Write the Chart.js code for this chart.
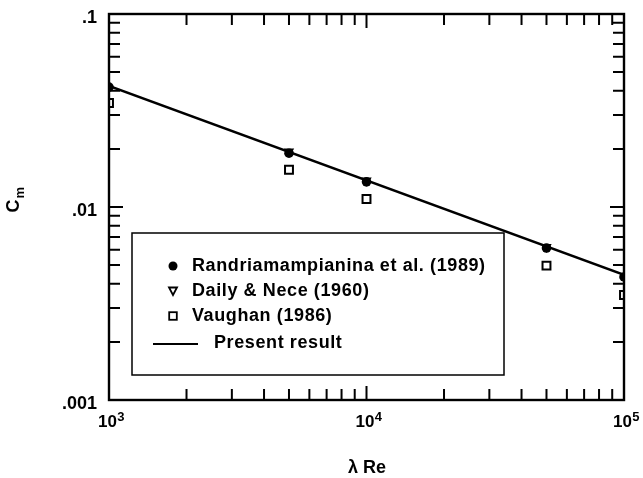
<!DOCTYPE html>
<html>
<head>
<meta charset="utf-8">
<script src="https://cdn.jsdelivr.net/npm/chart.js@4.4.1/dist/chart.umd.min.js"></script>
<style>
  html, body { margin: 0; padding: 0; background: #fff; }
  #wrap { width: 643px; height: 478px; }
</style>
</head>
<body>
<div id="wrap"><canvas id="cm"></canvas></div>
<script>
// values (log-log)
const randX = [1000, 5000, 10000, 50000, 100000];
const randY = [0.0418, 0.0190, 0.0135, 0.00613, 0.00434];

const dailyX = [5000, 10000, 50000];
const dailyY = [0.0194, 0.0137, 0.0062];

const vaughanX = [1000, 5000, 10000, 50000, 100000];
const vaughanY = [0.0346, 0.0156, 0.0110, 0.00497, 0.0035];

const presentX = [1000, 100000];
const presentY = [0.0424, 0.00445];

const xTicks = [1000, 10000, 100000];
const xTickExp = ["3", "4", "5"];
const yTicks = [0.1, 0.01, 0.001];
const yTickLabels = [".1", ".01", ".001"];

const legendLabels = [
  "Randriamampianina et al. (1989)",
  "Daily & Nece (1960)",
  "Vaughan (1986)",
  "Present result",
];

const FONT = "'Liberation Sans', Arial, Helvetica, sans-serif";

const pts = (xs, ys) => xs.map((x, i) => ({ x: x, y: ys[i] }));

// frame, inward ticks, labels and the boxed legend
const decorPlugin = {
  id: "decor",
  afterDraw(chart) {
    const ctx = chart.ctx;
    const a = chart.chartArea;
    const xs = chart.scales.x;
    const ys = chart.scales.y;
    ctx.save();
    ctx.strokeStyle = "#000";
    ctx.fillStyle = "#000";

    // frame
    ctx.lineWidth = 2.4;
    ctx.strokeRect(a.left, a.top, a.right - a.left, a.bottom - a.top);

    // ticks, pointing inward on all four sides
    ctx.lineWidth = 2;
    const tickLen = 11;
    for (let e = 3; e < 5; e++) {
      for (let m = 2; m <= 9; m++) {
        const px = xs.getPixelForValue(m * Math.pow(10, e));
        ctx.beginPath();
        ctx.moveTo(px, a.bottom); ctx.lineTo(px, a.bottom - tickLen);
        ctx.moveTo(px, a.top); ctx.lineTo(px, a.top + tickLen);
        ctx.stroke();
      }
    }
    for (let e = -3; e < -1; e++) {
      for (let m = 2; m <= 9; m++) {
        const py = ys.getPixelForValue(m * Math.pow(10, e));
        ctx.beginPath();
        ctx.moveTo(a.left, py); ctx.lineTo(a.left + tickLen, py);
        ctx.moveTo(a.right, py); ctx.lineTo(a.right - tickLen, py);
        ctx.stroke();
      }
    }
    // major ticks at the inner decade
    const mx = xs.getPixelForValue(10000);
    const my = ys.getPixelForValue(0.01);
    ctx.beginPath();
    ctx.moveTo(mx, a.bottom); ctx.lineTo(mx, a.bottom - 14);
    ctx.moveTo(mx, a.top); ctx.lineTo(mx, a.top + 14);
    ctx.moveTo(a.left, my); ctx.lineTo(a.left + 14, my);
    ctx.moveTo(a.right, my); ctx.lineTo(a.right - 14, my);
    ctx.stroke();

    // y tick labels
    ctx.font = "bold 18px " + FONT;
    ctx.textAlign = "right";
    ctx.textBaseline = "middle";
    yTicks.forEach((v, i) => {
      ctx.fillText(yTickLabels[i], 97, ys.getPixelForValue(v) + 4);
    });

    // x tick labels: 10 with superscript exponent
    ctx.textBaseline = "alphabetic";
    xTicks.forEach((v, i) => {
      const cx = xs.getPixelForValue(v) + 2;
      ctx.font = "bold 17px " + FONT;
      const w1 = ctx.measureText("10").width;
      ctx.font = "bold 13px " + FONT;
      const w2 = ctx.measureText(xTickExp[i]).width;
      const x0 = cx - (w1 + w2) / 2;
      ctx.textAlign = "left";
      ctx.font = "bold 17px " + FONT;
      ctx.fillText("10", x0, 427);
      ctx.font = "bold 13px " + FONT;
      ctx.fillText(xTickExp[i], x0 + w1 + 0.5, 421);
    });

    // x axis title
    ctx.font = "bold 18px " + FONT;
    ctx.textAlign = "center";
    ctx.fillText("\u03bb Re", 367, 473);

    // y axis title, rotated: C with subscript m
    ctx.save();
    ctx.translate(19, 202);
    ctx.rotate(-Math.PI / 2);
    ctx.textAlign = "left";
    ctx.font = "bold 18px " + FONT;
    const wc = ctx.measureText("C").width;
    ctx.fillText("C", -wc / 2 - 4, 0);
    ctx.font = "bold 13px " + FONT;
    ctx.fillText("m", wc / 2 - 3, 5);
    ctx.restore();

    // legend box
    const bx = 132, by = 233, bw = 372, bh = 142;
    ctx.fillStyle = "#fff";
    ctx.fillRect(bx, by, bw, bh);
    ctx.fillStyle = "#000";
    ctx.lineWidth = 1.5;
    ctx.strokeRect(bx, by, bw, bh);

    const rowY = [266, 291, 316, 343];
    const mkX = 173;
    ctx.font = "bold 18px " + FONT;
    ctx.letterSpacing = "0.6px";
    ctx.textAlign = "left";
    ctx.textBaseline = "middle";
    legendLabels.forEach((t, i) => {
      ctx.fillText(t, i === 3 ? 214 : 192, rowY[i]);
    });
    ctx.letterSpacing = "0px";
    // circle
    ctx.beginPath();
    ctx.arc(mkX, rowY[0], 4.5, 0, Math.PI * 2);
    ctx.fill();
    // open down-triangle
    ctx.lineWidth = 1.8;
    ctx.beginPath();
    ctx.moveTo(mkX - 4, rowY[1] - 3.5);
    ctx.lineTo(mkX + 4, rowY[1] - 3.5);
    ctx.lineTo(mkX, rowY[1] + 4);
    ctx.closePath();
    ctx.stroke();
    // open square
    ctx.strokeRect(mkX - 3.8, rowY[2] - 3.8, 7.6, 7.6);
    // line sample
    ctx.lineWidth = 2;
    ctx.beginPath();
    ctx.moveTo(153, rowY[3] + 1);
    ctx.lineTo(198, rowY[3] + 1);
    ctx.stroke();

    ctx.restore();
  },
};

new Chart(document.getElementById("cm"), {
  type: "scatter",
  data: {
    datasets: [
      {
        label: legendLabels[3],
        type: "line",
        data: pts(presentX, presentY),
        borderColor: "#000",
        borderWidth: 2.6,
        pointRadius: 0,
        fill: false,
        clip: 0,
      },
      {
        label: legendLabels[0],
        data: pts(randX, randY),
        pointStyle: "circle",
        pointRadius: 4.8,
        backgroundColor: "#000",
        borderColor: "#000",
        borderWidth: 0,
        clip: 0,
      },
      {
        label: legendLabels[1],
        data: pts(dailyX, dailyY),
        pointStyle: "triangle",
        rotation: 180,
        pointRadius: 4.5,
        backgroundColor: "#000",
        borderColor: "#000",
        borderWidth: 1.5,
        clip: 0,
      },
      {
        label: legendLabels[2],
        data: pts(vaughanX, vaughanY),
        pointStyle: "rect",
        pointRadius: 5.6,
        backgroundColor: "#fff",
        borderColor: "#000",
        borderWidth: 2,
        clip: 0,
      },
    ],
  },
  options: {
    responsive: true,
    maintainAspectRatio: false,
    animation: false,
    layout: { padding: { left: 109, top: 14, right: 19, bottom: 78 } },
    plugins: {
      legend: { display: false },
      tooltip: { enabled: false },
    },
    scales: {
      x: { type: "logarithmic", min: 1000, max: 100000, display: false },
      y: { type: "logarithmic", min: 0.001, max: 0.1, display: false },
    },
  },
  plugins: [decorPlugin],
});
</script>
</body>
</html>
